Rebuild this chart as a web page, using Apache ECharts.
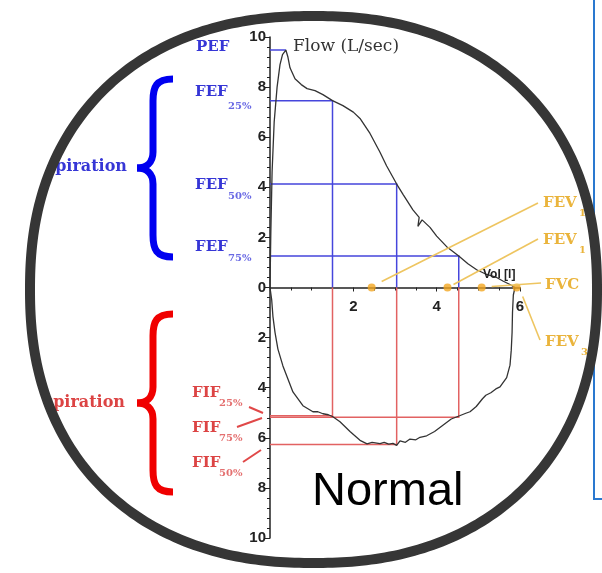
<!DOCTYPE html>
<html>
<head>
<meta charset="utf-8">
<script src="https://cdn.jsdelivr.net/npm/echarts@6/dist/echarts.min.js"></script>
<style>
html, body { margin: 0; padding: 0; background: #fff; }
#chart { width: 602px; height: 573px; }
</style>
</head>
<body>
<div id="chart"></div>
<script>
// flow-volume loop (volume in L, flow in L/sec)
const expVol  = [0, 0.02, 0.05, 0.1, 0.17, 0.24, 0.3, 0.38, 0.43, 0.48, 0.6, 0.75, 0.89, 1.08, 1.27, 1.5, 1.75, 2.0, 2.16, 2.4, 2.64, 2.8, 3.04, 3.2, 3.43, 3.58, 3.55, 3.65, 3.84, 4.0, 4.24, 4.53, 4.75, 4.96, 5.2, 5.44, 5.6, 5.76, 5.88];
const expFlow = [0, 2.2, 4.6, 6.6, 8.0, 8.9, 9.3, 9.48, 9.2, 8.77, 8.33, 8.1, 7.94, 7.86, 7.7, 7.46, 7.26, 7.0, 6.75, 6.15, 5.4, 4.85, 4.13, 3.7, 3.1, 2.8, 2.44, 2.7, 2.4, 2.05, 1.63, 1.26, 0.95, 0.71, 0.52, 0.4, 0.25, 0.12, 0];
const inspVol  = [5.88, 5.84, 5.82, 5.81, 5.79, 5.76, 5.68, 5.52, 5.42, 5.3, 5.18, 5.1, 4.95, 4.8, 4.7, 4.55, 4.35, 4.15, 3.95, 3.76, 3.6, 3.5, 3.36, 3.25, 3.12, 3.04, 2.95, 2.85, 2.74, 2.64, 2.45, 2.33, 2.16, 1.92, 1.68, 1.51, 1.4, 1.27, 1.15, 1.03, 0.79, 0.55, 0.31, 0.19, 0.12, 0.07, 0.04, 0];
const inspFlow = [0, -0.3, -1.0, -1.8, -2.5, -3.1, -3.6, -3.97, -4.05, -4.2, -4.3, -4.44, -4.75, -4.96, -5.02, -5.12, -5.25, -5.5, -5.75, -5.92, -5.98, -6.08, -6.05, -6.18, -6.12, -6.3, -6.22, -6.25, -6.18, -6.23, -6.18, -6.24, -6.1, -5.75, -5.36, -5.16, -5.08, -5.04, -4.96, -4.96, -4.72, -4.17, -3.13, -2.46, -1.79, -1.15, -0.48, 0];

const pefVol = 0.38, pefFlow = 9.48;
const fefVol  = [1.5, 3.04, 4.53];     // 25%, 50%, 75%
const fefFlow = [7.46, 4.13, 1.26];
const fifVol  = [1.5, 3.04, 4.53];     // 25%, 50%, 75%
const fifFlow = [-5.12, -6.27, -5.18];
const fevVol  = [2.44, 4.26, 5.08, 5.92];

const volTicks = [0, 2, 4, 6];
const flowTicks = [-10, -8, -6, -4, -2, 0, 2, 4, 6, 8, 10];

const BLUE = '#4646dc', RED = '#e26262', GOLD = '#eab43c';

const chart = echarts.init(document.getElementById('chart'));

const blueLines = [{ coords: [[0, pefFlow], [pefVol, pefFlow]] }].concat(
  fefVol.map((v, i) => ({ coords: [[0, fefFlow[i]], [v, fefFlow[i]], [v, 0]] })));
const redLines = fifVol.map((v, i) => ({ coords: [[0, fifFlow[i]], [v, fifFlow[i]], [v, 0]] }));

const axisFont = { fontFamily: 'Liberation Sans', fontWeight: 'bold', fontSize: 15, color: '#222' };
const gridTop = 37, gridH = 501;

chart.setOption({
  animation: false,
  backgroundColor: '#fff',
  grid: { left: 270, top: gridTop, width: 250, height: gridH },
  xAxis: {
    type: 'value', min: volTicks[0], max: volTicks[volTicks.length - 1], interval: 2,
    position: 'bottom', offset: -gridH / 2,
    axisLine: { onZero: false, lineStyle: { color: '#222', width: 1.5 } },
    axisTick: { length: 4, lineStyle: { color: '#222' } },
    minorTick: { show: true, splitNumber: 4, length: 3, lineStyle: { color: '#222' } },
    axisLabel: Object.assign({ margin: 12, formatter: v => (v === 0 ? '' : v) }, axisFont),
    splitLine: { show: false }
  },
  yAxis: {
    type: 'value', min: flowTicks[0], max: flowTicks[flowTicks.length - 1], interval: 2,
    axisLine: { show: true, lineStyle: { color: '#222', width: 1.5 } },
    axisTick: { show: true, length: 5, lineStyle: { color: '#222' } },
    minorTick: { show: true, splitNumber: 5, length: 3, lineStyle: { color: '#222' } },
    axisLabel: Object.assign({ margin: 4, formatter: v => Math.abs(v) }, axisFont),
    splitLine: { show: false }
  },
  series: [
    { type: 'lines', coordinateSystem: 'cartesian2d', polyline: true, silent: true,
      lineStyle: { color: BLUE, width: 1.5, opacity: 1 }, data: blueLines },
    { type: 'lines', coordinateSystem: 'cartesian2d', polyline: true, silent: true,
      lineStyle: { color: RED, width: 1.5, opacity: 1 }, data: redLines },
    { type: 'line', showSymbol: false, lineStyle: { color: '#333', width: 1.3 },
      data: expVol.map((v, i) => [v, expFlow[i]]) },
    { type: 'line', showSymbol: false, lineStyle: { color: '#333', width: 1.3 },
      data: inspVol.map((v, i) => [v, inspFlow[i]]) },
    { type: 'scatter', symbolSize: 8, itemStyle: { color: '#f3a620' }, z: 5,
      data: fevVol.map(v => [v, 0]) }
  ]
});

// annotations
function txt(x, y, s, color, font, align) {
  return { type: 'text', x: x, y: y, z: 10,
    style: { text: s, fill: color, font: font, verticalAlign: 'middle', align: align || 'left' } };
}
function brace(px, py, h, color) {
  const w = 36, s = { stroke: color, lineWidth: 7, fill: null };
  const x1 = px + 16, xe = px + w;
  return [
    { type: 'bezierCurve', z: 10, shape: { x1: xe, y1: py - h, cpx1: x1 + 3, cpy1: py - h, cpx2: x1, cpy2: py - h + 8, x2: x1, y2: py - h + 22 }, style: s },
    { type: 'line', z: 10, shape: { x1: x1, y1: py - h + 22, x2: x1, y2: py - 16 }, style: s },
    { type: 'bezierCurve', z: 10, shape: { x1: x1, y1: py - 16, cpx1: x1, cpy1: py - 5, cpx2: px + 9, cpy2: py, x2: px, y2: py }, style: s },
    { type: 'bezierCurve', z: 10, shape: { x1: px, y1: py, cpx1: px + 9, cpy1: py, cpx2: x1, cpy2: py + 5, x2: x1, y2: py + 16 }, style: s },
    { type: 'line', z: 10, shape: { x1: x1, y1: py + 16, x2: x1, y2: py + h - 22 }, style: s },
    { type: 'bezierCurve', z: 10, shape: { x1: x1, y1: py + h - 22, cpx1: x1, cpy1: py + h - 8, cpx2: x1 + 3, cpy2: py + h, x2: xe, y2: py + h }, style: s }
  ];
}

const lensCx = 313.5, lensCy = 289.5, lensA = 283.5, lensB = 273.5, lensN = 2.25;
function lensPts(grow) {
  const pts = [], A = lensA + grow, B = lensB + grow;
  for (let k = 0; k < 360; k++) {
    const t = Math.PI - k / 360 * Math.PI * 2, c = Math.cos(t), s = Math.sin(t);
    const rr = Math.pow(Math.pow(Math.abs(c / A), lensN) + Math.pow(Math.abs(s / B), lensN), -1 / lensN);
    pts.push([lensCx + rr * c, lensCy + rr * s]);
  }
  return pts;
}
const hole = lensPts(2);
// white sheet with a lens-shaped hole: box one way round, hole the other way round
const maskPts = [[-20, lensCy], [-20, -20], [630, -20], [630, 600], [-20, 600], [-20, lensCy]]
  .concat(hole, [hole[0]]);

const blueTxt = '#3636d6', blueSub = '#6a6ae4', redTxt = '#dc4444', redSub = '#e47070';
const big = 'bold 15px "DejaVu Serif"', sub = 'bold 10px "DejaVu Serif"';

const px = v => chart.convertToPixel({ gridIndex: 0 }, v);
const leaderEnds = [[538, 203], [538, 239], [541, 283], [540, 340]];
const leaderGap = [[10, -6], [6, -3], [10, -1], [6, 9]];
const leaders = fevVol.map((v, i) => {
  const p = px([v, 0]);
  return { type: 'line', z: 8, shape: { x1: p[0] + leaderGap[i][0], y1: p[1] + leaderGap[i][1], x2: leaderEnds[i][0], y2: leaderEnds[i][1] },
    style: { stroke: '#eec560', lineWidth: 1.6 } };
});

const g = [].concat(
  leaders,
  brace(137, 168, 89, '#0000f0'),
  brace(137, 403, 89, '#f00000'),
  [
    txt(127, 167, 'Expiration', blueTxt, 'bold 16px "DejaVu Serif"', 'right'),
    txt(125, 403, 'Inspiration', redTxt, 'bold 16px "DejaVu Serif"', 'right'),
    txt(196, 47, 'PEF', blueTxt, big),
    txt(195, 92, 'FEF', blueTxt, big), txt(228, 106, '25%', blueSub, sub),
    txt(195, 185, 'FEF', blueTxt, big), txt(228, 196, '50%', blueSub, sub),
    txt(195, 247, 'FEF', blueTxt, big), txt(228, 258, '75%', blueSub, sub),
    txt(192, 393, 'FIF', redTxt, big), txt(219, 403, '25%', redSub, sub),
    txt(192, 428, 'FIF', redTxt, big), txt(219, 438, '75%', redSub, sub),
    txt(192, 463, 'FIF', redTxt, big), txt(219, 473, '50%', redSub, sub),
    txt(543, 203, 'FEV', GOLD, big), txt(579, 213, '1', GOLD, sub),
    txt(543, 240, 'FEV', GOLD, big), txt(579, 250, '1', GOLD, sub),
    txt(545, 285, 'FVC', GOLD, big),
    txt(545, 342, 'FEV', GOLD, big), txt(581, 352, '3', GOLD, sub),
    txt(293, 47, 'Flow (L/sec)', '#333', '17px "DejaVu Serif"'),
    txt(483, 275, 'Vol [l]', '#222', 'bold 12px "Liberation Sans"'),
    txt(312, 492, 'Normal', '#000', '47px "Liberation Sans"'),
    { type: 'line', z: 10, shape: { x1: 249, y1: 407, x2: 263, y2: 413 }, style: { stroke: '#e04848', lineWidth: 2 } },
    { type: 'line', z: 10, shape: { x1: 237, y1: 427, x2: 262, y2: 418 }, style: { stroke: '#e04848', lineWidth: 2 } },
    { type: 'line', z: 10, shape: { x1: 243, y1: 462, x2: 261, y2: 450 }, style: { stroke: '#e04848', lineWidth: 2 } },
    // white outside the lens
    { type: 'polygon', z: 50, shape: { points: maskPts }, style: { fill: '#fff', stroke: null } },
    // blue frame behind the lens
    { type: 'polyline', z: 60, shape: { points: [[594, 0], [594, 499], [604, 499]] }, style: { stroke: '#2a78cf', lineWidth: 2, fill: null } },
    // lens ring
    { type: 'polygon', z: 70, shape: { points: lensPts(0) }, style: { stroke: '#363636', lineWidth: 10, fill: null, lineJoin: 'round' } }
  ]
);

chart.setOption({ graphic: g });
</script>
</body>
</html>
